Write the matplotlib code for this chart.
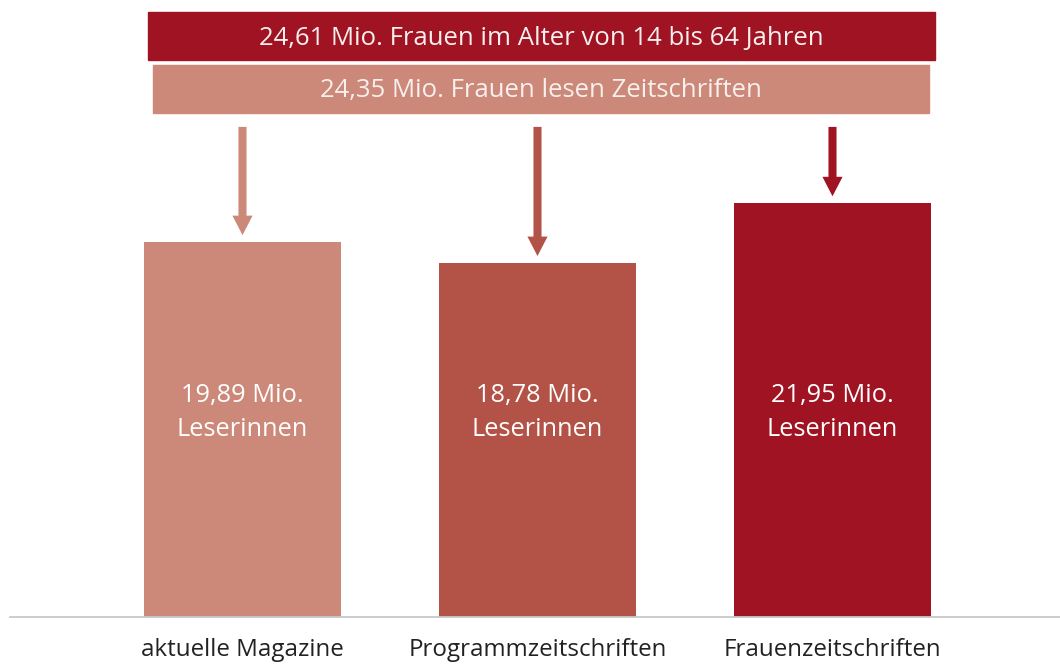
import matplotlib
matplotlib.use('Agg')
import matplotlib.pyplot as plt
from matplotlib.patches import Rectangle

# data
categories = ["aktuelle Magazine", "Programmzeitschriften", "Frauenzeitschriften"]
readers = [19.89, 18.78, 21.95]
bar_labels = ["19,89 Mio.\nLeserinnen", "18,78 Mio.\nLeserinnen", "21,95 Mio.\nLeserinnen"]
banner_top = "24,61 Mio. Frauen im Alter von 14 bis 64 Jahren"
banner_sub = "24,35 Mio. Frauen lesen Zeitschriften"

colors = ["#CC8878", "#B35246", "#A01323"]
W, H = 1060, 665
base_px = 48          # baseline height above bottom, pixels
scale = 18.85         # pixels per Mio.

plt.rcParams['font.family'] = ['Open Sans', 'DejaVu Sans']

fig = plt.figure(figsize=(W / 100, H / 100), dpi=100)
ax = fig.add_axes([0, base_px / H, 1, (H - base_px) / H])
ax.set_ylim(0, (H - base_px) / scale)
ax.set_xlim(-242.5 / 295, (W - 242.5) / 295)
ax.axis('off')

x = list(range(len(categories)))
ax.bar(x, readers, width=197 / 295, color=colors, zorder=2)

for xi, val, lab in zip(x, readers, bar_labels):
    ax.text(xi, 10.85, lab, ha='center', va='center', color='white',
            fontsize=18.3, linespacing=1.45, zorder=3)
    ax.text(xi, -1.75, categories[xi], ha='center', va='center',
            color='#222222', fontsize=17.4, clip_on=False)
    # arrow from banner to bar
    ax.annotate('', xy=(xi, val + 0.37), xytext=(xi, 26.0),
                arrowprops=dict(arrowstyle='simple,head_length=14,head_width=14.5,tail_width=5.8',
                                mutation_scale=1, color=colors[xi], lw=0,
                                shrinkA=0, shrinkB=0))

# baseline
fig.add_artist(plt.Line2D([10 / W, 1], [base_px / H, base_px / H],
                          color='#c8c8c8', lw=1.3, transform=fig.transFigure))

# banners
def banner(x0, x1, y0, y1, color, text):
    fig.add_artist(Rectangle((x0 / W, 1 - y1 / H), (x1 - x0) / W, (y1 - y0) / H,
                             color=color, transform=fig.transFigure))
    fig.text((x0 + x1) / 2 / W, 1 - ((y0 + y1) / 2 + 2) / H, text, ha='center', va='center',
             color='#f7f0ee', fontsize=18.5)

banner(148, 935, 12, 60, colors[2], banner_top)
banner(153, 929, 65, 113, colors[0], banner_sub)

fig.savefig('out.png', dpi=100)
